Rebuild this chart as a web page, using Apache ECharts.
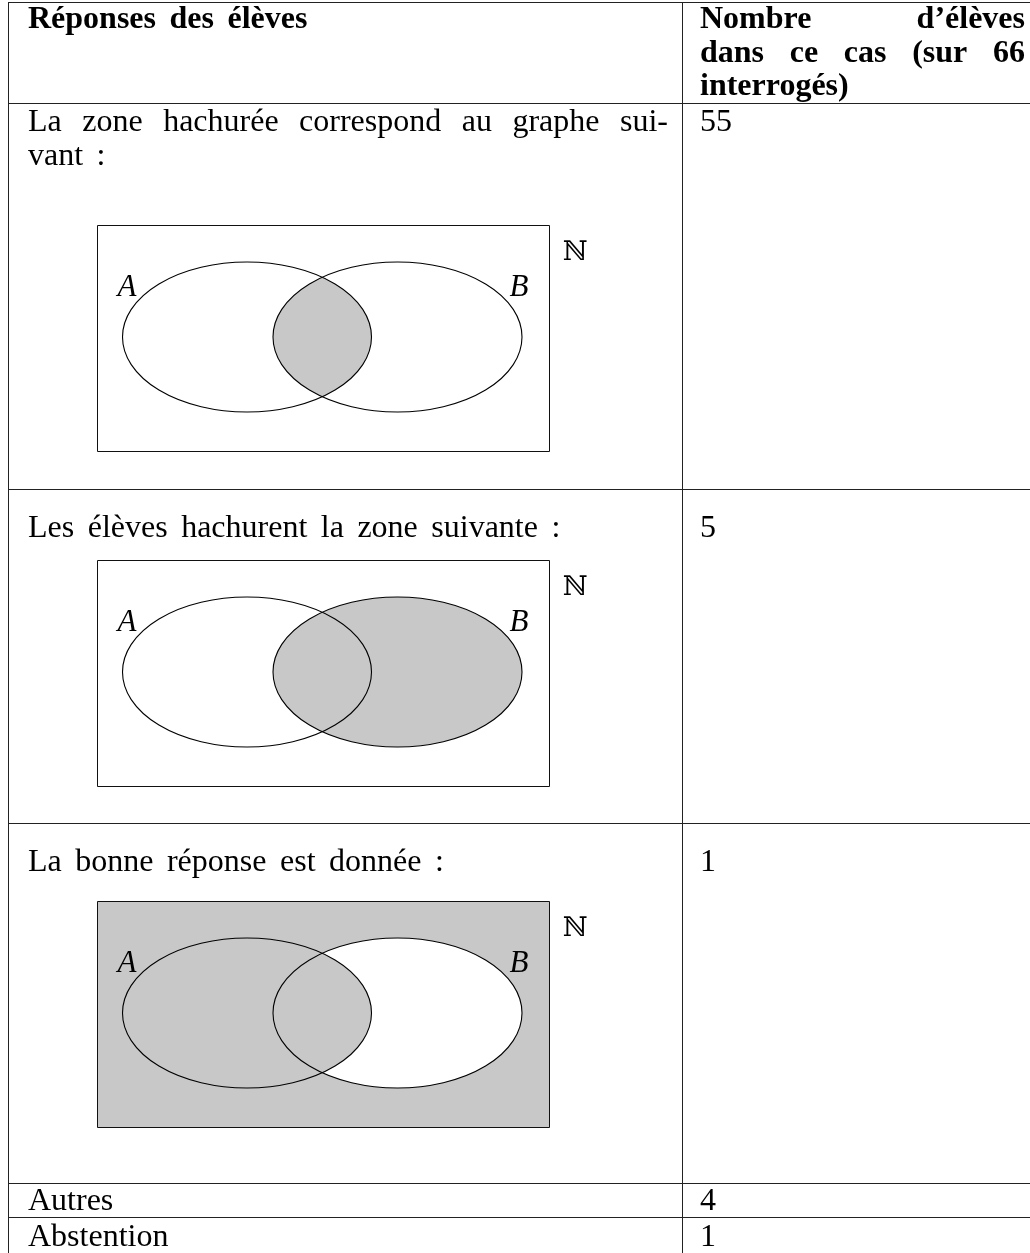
<!DOCTYPE html>
<html lang="fr">
<head>
<meta charset="UTF-8">
<title>Réponses des élèves</title>
<script src="https://cdn.jsdelivr.net/npm/echarts@6.0.0/dist/echarts.min.js"></script>
<style>html,body{margin:0;padding:0;background:#fff;}</style>
</head>
<body>
<div id="main" style="width:1030px;height:1253px;"></div>
<script type="text/javascript">
// données du tableau
var headerLeft = 'Réponses des élèves';
var headerRight = ['Nombre d’élèves', 'dans ce cas (sur 66', 'interrogés)'];
var responses = [
    ['La zone hachurée correspond au graphe sui-', 'vant :'],
    ['Les élèves hachurent la zone suivante :'],
    ['La bonne réponse est donnée :'],
    ['Autres'],
    ['Abstention']
];
var counts = [55, 5, 1, 4, 1];
// zone hachurée de chaque diagramme (null = pas de diagramme)
var shading = ['AinterB', 'B', 'horsBsaufA', null, null];
var setNames = ['A', 'B', 'ℕ'];

// mise en page (en pixels, l'axe suit la page 1:1)
var W = 1030, H = 1253;
var xLeft = 8, xDiv = 682, xRight = 1030;
var tableTop = 2;
var rowTops = [103, 489, 823, 1183, 1217];
var textTops = [123, 529, 863, 1202, 1238];   // centre de la 1re ligne de texte
var boxTops = [225, 560, 901];
var headerY = 20;
var lineGap = 34;
var wordGap = 13.5;
var textFont = '32px "Liberation Serif"';
var boldFont = 'bold 32px "Liberation Serif"';
var italicFont = 'italic 31px "Liberation Serif"';
var setFont = '27px "DejaVu Serif", "DejaVu Sans"';
var ruleColor = '#222';
var grey = '#c8c8c8';

var measureCtx = document.createElement('canvas').getContext('2d');
function textWidth(s, font) {
    measureCtx.font = font;
    return measureCtx.measureText(s).width;
}

function textEl(api, s, x, y, font, align) {
    var p = api.coord([x, y]);
    return {
        type: 'text', x: p[0], y: p[1],
        style: {text: s, font: font, fill: '#000', align: align || 'left', verticalAlign: 'middle'}
    };
}

// mots posés un à un ; x1 donné => ligne justifiée comme dans LaTeX
function wordsLine(api, s, x0, x1, y, font) {
    var words = s.split(' ');
    var gap = wordGap;
    if (x1 != null) {
        var total = 0;
        words.forEach(function (w) { total += textWidth(w, font); });
        gap = (x1 - x0 - total) / (words.length - 1);
    }
    var x = x0, out = [];
    words.forEach(function (w) {
        out.push(textEl(api, w, x, y, font));
        x += textWidth(w, font) + gap;
    });
    return out;
}

function lineEl(api, x1, y1, x2, y2) {
    var a = api.coord([x1, y1]), b = api.coord([x2, y2]);
    return {
        type: 'line',
        shape: {x1: a[0], y1: a[1], x2: b[0], y2: b[1]},
        style: {stroke: ruleColor, lineWidth: 1}
    };
}

function ellipsePath(cx, cy, rx, ry) {
    return 'M' + (cx - rx) + ' ' + cy +
        ' A' + rx + ' ' + ry + ' 0 1 0 ' + (cx + rx) + ' ' + cy +
        ' A' + rx + ' ' + ry + ' 0 1 0 ' + (cx - rx) + ' ' + cy + ' Z';
}

// lentille A ∩ B
function lensPath(cxA, cxB, cy, rx, ry) {
    var xm = (cxA + cxB) / 2;
    var dy = ry * Math.sqrt(1 - Math.pow((xm - cxA) / rx, 2));
    return 'M' + xm + ' ' + (cy - dy) +
        ' A' + rx + ' ' + ry + ' 0 0 0 ' + xm + ' ' + (cy + dy) +
        ' A' + rx + ' ' + ry + ' 0 0 0 ' + xm + ' ' + (cy - dy) + ' Z';
}

function venn(api, boxTop, mode) {
    var tl = api.coord([97, boxTop]);
    var sz = api.size([452, 226]);
    var c = api.coord([247, boxTop + 112]);
    var cB = api.coord([397.5, boxTop + 112]);
    var r = api.size([124.5, 75]);
    var rx = r[0], ry = r[1];
    var pathA = ellipsePath(c[0], c[1], rx, ry);
    var pathB = ellipsePath(cB[0], c[1], rx, ry);
    var lens = lensPath(c[0], cB[0], c[1], rx, ry);
    var els = [];
    els.push({
        type: 'rect',
        shape: {x: tl[0] + 0.5, y: tl[1] + 0.5, width: sz[0], height: sz[1]},
        style: {fill: mode === 'horsBsaufA' ? grey : '#fff', stroke: '#111', lineWidth: 1}
    });
    if (mode === 'B') {
        els.push({type: 'path', shape: {pathData: pathB}, style: {fill: grey, stroke: null}});
    }
    if (mode === 'horsBsaufA') {
        els.push({type: 'path', shape: {pathData: pathB}, style: {fill: '#fff', stroke: null}});
        els.push({type: 'path', shape: {pathData: lens}, style: {fill: grey, stroke: null}});
    }
    if (mode === 'AinterB') {
        els.push({type: 'path', shape: {pathData: lens}, style: {fill: grey, stroke: null}});
    }
    els.push({type: 'path', shape: {pathData: pathA}, style: {fill: null, stroke: '#000', lineWidth: 1.1}});
    els.push({type: 'path', shape: {pathData: pathB}, style: {fill: null, stroke: '#000', lineWidth: 1.1}});
    els.push(textEl(api, setNames[0], 127, boxTop + 63, italicFont, 'center'));
    els.push(textEl(api, setNames[1], 519, boxTop + 63, italicFont, 'center'));
    els.push(textEl(api, setNames[2], 575, boxTop + 28, setFont, 'center'));
    return els;
}

function renderHeader(params, api) {
    var children = [
        lineEl(api, xLeft, tableTop + 0.5, xRight, tableTop + 0.5),
        lineEl(api, xLeft + 0.5, tableTop, xLeft + 0.5, rowTops[0]),
        lineEl(api, xDiv + 0.5, tableTop, xDiv + 0.5, rowTops[0])
    ];
    children = children.concat(wordsLine(api, headerLeft, 28, null, headerY, boldFont));
    headerRight.forEach(function (line, k) {
        var y = headerY + k * 33.5;
        var last = k === headerRight.length - 1;
        children = children.concat(wordsLine(api, line, 700, last ? null : 1025, y, boldFont));
    });
    return {type: 'group', children: children};
}

function renderRow(params, api) {
    var i = api.value(0);
    var top = rowTops[i];
    var bottom = i + 1 < rowTops.length ? rowTops[i + 1] : H + 10;
    var children = [
        lineEl(api, xLeft, top + 0.5, xRight, top + 0.5),
        lineEl(api, xLeft + 0.5, top, xLeft + 0.5, bottom),
        lineEl(api, xDiv + 0.5, top, xDiv + 0.5, bottom)
    ];
    var lines = responses[i];
    lines.forEach(function (line, k) {
        var y = textTops[i] + k * lineGap;
        var last = k === lines.length - 1;
        children = children.concat(wordsLine(api, line, 28, last ? null : 668, y, textFont));
    });
    children.push(textEl(api, String(api.value(1)), 700, textTops[i], textFont));
    if (shading[i]) {
        children = children.concat(venn(api, boxTops[i], shading[i]));
    }
    return {type: 'group', children: children};
}

var myChart = echarts.init(document.getElementById('main'));
var option = {
    animation: false,
    grid: {left: 0, right: 0, top: 0, bottom: 0},
    xAxis: {type: 'value', min: 0, max: W, show: false},
    yAxis: {type: 'value', min: 0, max: H, inverse: true, show: false},
    series: [{
        type: 'custom',
        name: 'entête',
        clip: false,
        renderItem: renderHeader,
        data: [[0]]
    }, {
        type: 'custom',
        name: 'réponses',
        clip: false,
        renderItem: renderRow,
        data: counts.map(function (n, i) { return [i, n]; })
    }]
};
myChart.setOption(option);
</script>
</body>
</html>
